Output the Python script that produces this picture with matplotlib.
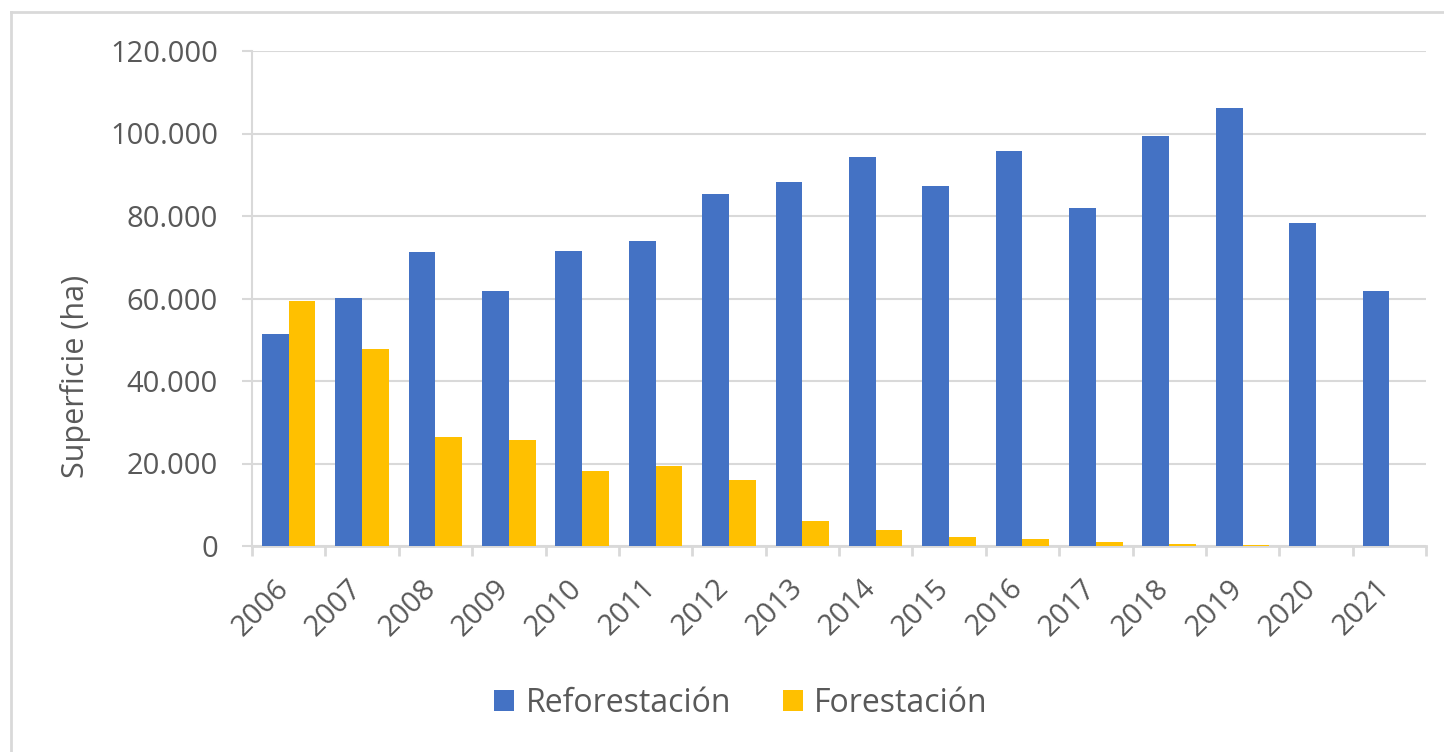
import matplotlib
matplotlib.use("Agg")
import matplotlib.pyplot as plt
from matplotlib.lines import Line2D
from matplotlib.patches import Patch
import matplotlib.transforms as mtransforms
import numpy as np

years = ["2006", "2007", "2008", "2009", "2010", "2011", "2012", "2013",
         "2014", "2015", "2016", "2017", "2018", "2019", "2020", "2021"]
reforestacion = [51400, 60100, 71300, 61700, 71400, 74000, 85300, 88200,
                 94300, 87300, 95800, 81900, 99300, 106200, 78300, 61700]
forestacion = [59400, 47800, 26500, 25600, 18300, 19300, 16000, 6100,
               3800, 2300, 1800, 1000, 600, 250, 0, 0]
ytick_values = [0, 20000, 40000, 60000, 80000, 100000, 120000]
ytick_labels = ["0", "20.000", "40.000", "60.000", "80.000", "100.000", "120.000"]
series_names = ["Reforestación", "Forestación"]

BLUE = "#4472C4"
YELLOW = "#FFC000"
TXT = "#595959"
GRID = "#D9D9D9"
FONT = "Open Sans"
FS = 21

plt.rcParams['font.family'] = [FONT, 'DejaVu Sans']

W, H = 1444, 752
fig = plt.figure(figsize=(W / 100, H / 100), dpi=100)
ax = fig.add_axes([252 / W, 1 - 546 / H, (1426 - 252) / W, (546 - 51) / H])

x = np.arange(len(years))
bw = 0.365
ax.bar(x - bw / 2, reforestacion, width=bw, color=BLUE, zorder=3)
ax.bar(x + bw / 2, forestacion, width=bw, color=YELLOW, zorder=3)

ax.set_xlim(-0.5, len(years) - 0.5)
ax.set_ylim(0, 120000)

ax.set_yticks(ytick_values)
ax.set_yticklabels(ytick_labels, fontsize=FS, color=TXT)
ax.tick_params(axis='y', length=7.5, width=1.5, color=GRID, pad=17)
ax.grid(axis='y', color=GRID, linewidth=1.5, zorder=0)

ax.set_xticks(x)
ax.set_xticklabels(years, fontsize=FS, color=TXT, rotation=45, ha='right', va='top')
ax.set_xticks(np.arange(-0.5, len(years), 1.0), minor=True)
ax.tick_params(axis='x', which='major', length=0, pad=20)
ax.tick_params(axis='x', which='minor', length=7.5, width=2, color=GRID)
offset = mtransforms.ScaledTranslation(6 / 100, 0, fig.dpi_scale_trans)
for lbl in ax.get_xticklabels():
    lbl.set_transform(lbl.get_transform() + offset)

for s in ['top', 'right']:
    ax.spines[s].set_visible(False)
ax.spines['left'].set_color(GRID)
ax.spines['left'].set_linewidth(1.5)
ax.spines['bottom'].set_color(GRID)
ax.spines['bottom'].set_linewidth(2)

ax.set_ylabel("Superficie (ha)", fontsize=22, color=TXT)
ax.yaxis.set_label_coords(91 / W, 0.5, transform=fig.transFigure)

handles = [Patch(facecolor=BLUE, edgecolor='none'), Patch(facecolor=YELLOW, edgecolor='none')]
fig.legend(handles, series_names, loc='center', bbox_to_anchor=(741 / W, 1 - 703 / H),
           ncol=2, frameon=False, fontsize=23, labelcolor=TXT,
           handlelength=0.63, handleheight=0.63, handletextpad=0.35, columnspacing=1.63,
           borderpad=0, borderaxespad=0)

# chart area border (partially visible)
fig.add_artist(Line2D([11 / W, 1.0], [1 - 12 / H, 1 - 12 / H], color=GRID, lw=2,
                      transform=fig.transFigure))
fig.add_artist(Line2D([11 / W, 11 / W], [0, 1 - 12 / H], color=GRID, lw=2,
                      transform=fig.transFigure))

fig.savefig("out.png", dpi=100)
